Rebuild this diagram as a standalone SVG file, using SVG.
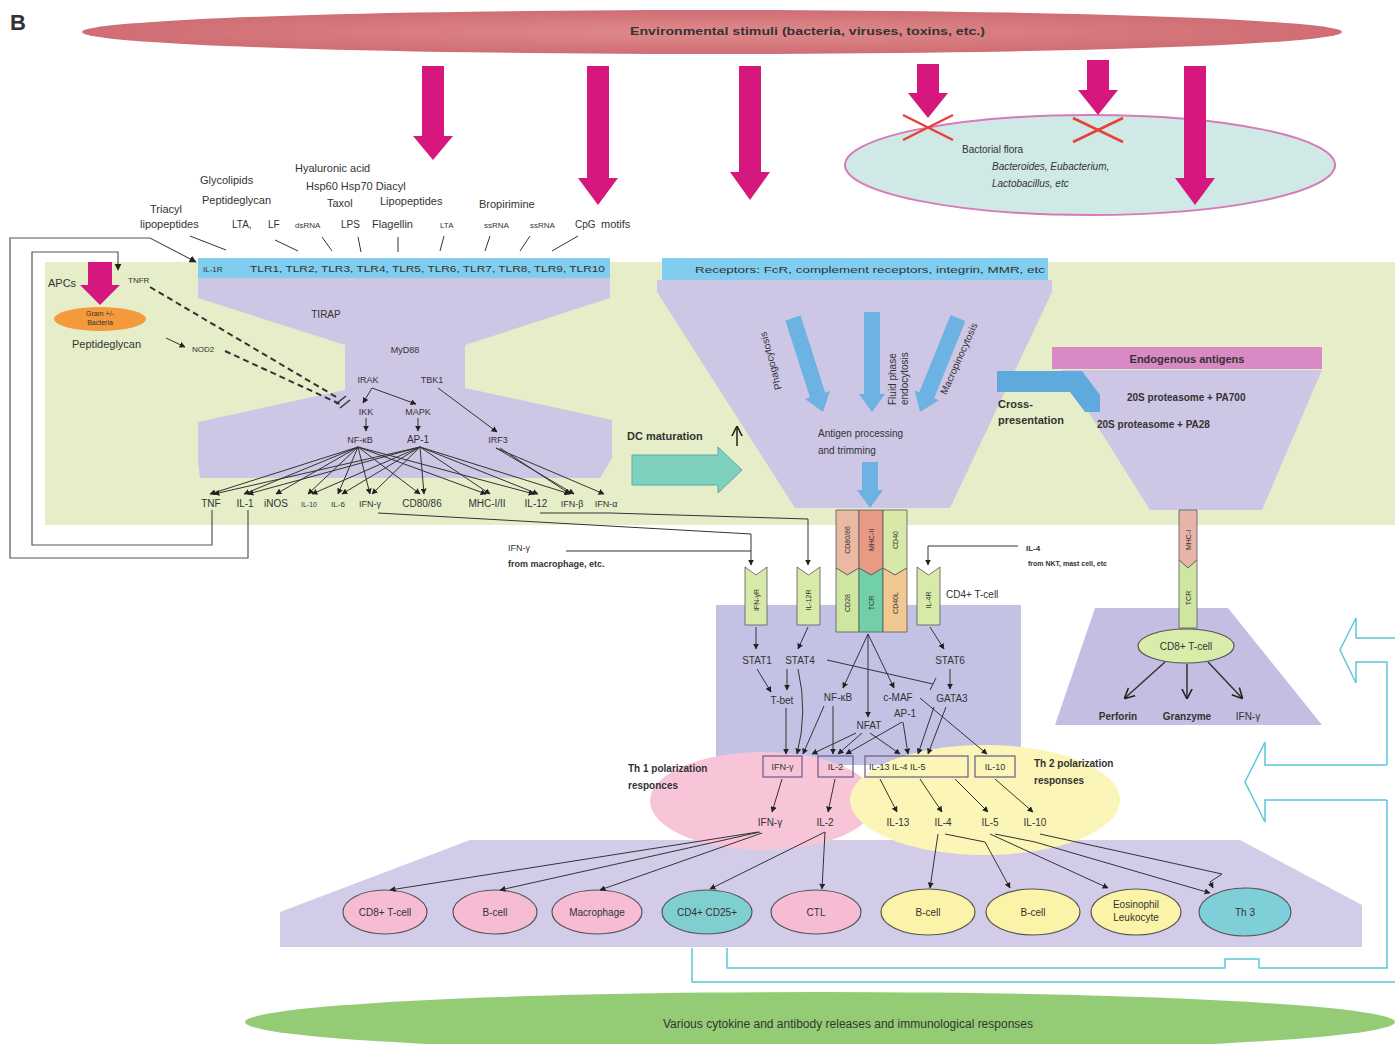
<svg xmlns="http://www.w3.org/2000/svg" width="1395" height="1044" viewBox="0 0 1395 1044">
<defs>
<style>
.t{font-family:"Liberation Sans",Arial,sans-serif;fill:#333}
.s7{font-size:7px}.s8{font-size:8px}.s9{font-size:9px}.s10{font-size:10px}.s11{font-size:11px}.s12{font-size:12px}
.b{font-weight:bold}.i{font-style:italic}
.m{text-anchor:middle}
.mag{fill:#d6187e}
.ln{fill:none;stroke:#333;stroke-width:1}
.la{fill:none;stroke:#333;stroke-width:1;marker-end:url(#ah)}
.lav{fill:#cdc6e5}
.blu{fill:#6cb2e2}
.rec{fill:#d8eaa8;stroke:#556;stroke-width:0.8}
.box{fill:none;stroke:#6a5a8a;stroke-width:1.2}
.cy{fill:none;stroke:#5cc8dc;stroke-width:1.5}
.cell{stroke:#555;stroke-width:1.2}
</style>
<marker id="ah" viewBox="0 0 10 10" refX="9" refY="5" markerWidth="6" markerHeight="6" orient="auto"><path d="M0,0 L10,5 L0,10 z" fill="#222"/></marker>
<marker id="ahb" viewBox="0 0 10 10" refX="9" refY="5" markerWidth="7" markerHeight="9" orient="auto"><path d="M0,0 L10,5 L0,10" fill="none" stroke="#222" stroke-width="1.5"/></marker>
<radialGradient id="gtop" cx="0.5" cy="0.5" r="0.5"><stop offset="0" stop-color="#df8a8c"/><stop offset="1" stop-color="#cf6e74"/></radialGradient>
</defs>

<text class="t b" x="10" y="30" font-size="22">B</text>

<g id="environment">
<ellipse cx="712" cy="32" rx="630" ry="22" fill="url(#gtop)"/>
<text class="t b s10" x="630" y="35" textLength="355" lengthAdjust="spacingAndGlyphs">Environmental stimuli (bacteria, viruses, toxins, etc.)</text>
</g>

<g id="bacterial-flora">
<ellipse cx="1090" cy="165" rx="245" ry="50" fill="#cfe9e6" stroke="#d77ab8" stroke-width="2"/>
<text class="t s10" x="962" y="153">Bactorial flora</text>
<text class="t s10 i" x="992" y="170">Bacteroides, Eubacterium,</text>
<text class="t s10 i" x="992" y="187">Lactobacillus, etc</text>
</g>

<g id="stimulus-arrows">
<polygon class="mag" points="422,66 444,66 444,136 453,136 433,160 413,136 422,136"/>
<polygon class="mag" points="587,66 609,66 609,178 618,178 598,205 578,178 587,178"/>
<polygon class="mag" points="739,66 761,66 761,172 770,172 750,200 730,172 739,172"/>
<polygon class="mag" points="917,64 939,64 939,93 948,93 928,118 908,93 917,93"/>
<polygon class="mag" points="1087,60 1109,60 1109,90 1118,90 1098,115 1078,90 1087,90"/>
<polygon class="mag" points="1184,66 1206,66 1206,178 1215,178 1195,205 1175,178 1184,178"/>
<g stroke="#e8403a" stroke-width="2.5">
<line x1="903" y1="115" x2="953" y2="140"/><line x1="903" y1="140" x2="953" y2="115"/>
<line x1="1073" y1="118" x2="1123" y2="142"/><line x1="1073" y1="142" x2="1123" y2="118"/>
</g>
</g>

<g id="ligands">
<text class="t s11" x="150" y="213">Triacyl</text>
<text class="t s11" x="140" y="228">lipopeptides</text>
<text class="t s10" x="232" y="228">LTA,</text>
<text class="t s10" x="268" y="228">LF</text>
<text class="t s8" x="295" y="228">dsRNA</text>
<text class="t s10" x="341" y="228">LPS</text>
<text class="t s11" x="372" y="228">Flagellin</text>
<text class="t s8" x="440" y="228">LTA</text>
<text class="t s8" x="484" y="228">ssRNA</text>
<text class="t s8" x="530" y="228">ssRNA</text>
<text class="t s10" x="575" y="228">CpG</text>
<text class="t s11" x="601" y="228">motifs</text>
<text class="t s11" x="200" y="184">Glycolipids</text>
<text class="t s11" x="202" y="204">Peptideglycan</text>
<text class="t s11" x="295" y="172">Hyaluronic acid</text>
<text class="t s11" x="306" y="190">Hsp60 Hsp70 Diacyl</text>
<text class="t s11" x="327" y="207">Taxol</text>
<text class="t s11" x="380" y="205">Lipopeptides</text>
<text class="t s11" x="479" y="208">Bropirimine</text>
</g>

<g id="dc-background">
<rect x="45" y="262" width="1350" height="263" fill="#e5eec8"/>
</g>

<g id="tlr-pathway">
<polygon class="lav" points="198,278 610,278 610,298 465,345 465,388 612,420 612,458 600,478 200,478 198,460 198,422 345,390 345,345 198,298"/>
<rect x="198" y="258" width="412" height="20" fill="#80cdef"/>
<text class="t s8" x="203" y="272">IL-1R</text>
<text class="t s9" x="250" y="272" textLength="355" lengthAdjust="spacingAndGlyphs">TLR1, TLR2, TLR3, TLR4, TLR5, TLR6, TLR7, TLR8, TLR9, TLR10</text>
<text class="t s10 m" x="326" y="318">TIRAP</text>
<text class="t s9 m" x="405" y="353">MyD88</text>
<text class="t s9 m" x="368" y="383">IRAK</text>
<text class="t s9 m" x="432" y="383">TBK1</text>
<text class="t s9 m" x="366" y="415">IKK</text>
<text class="t s9 m" x="418" y="415">MAPK</text>
<text class="t s9 m" x="360" y="443">NF-κB</text>
<text class="t s10 m" x="418" y="443">AP-1</text>
<text class="t s9 m" x="498" y="443">IRF3</text>
</g>

<g id="tlr-products">
<text class="t s10 m" x="211" y="507">TNF</text>
<text class="t s10 m" x="245" y="507">IL-1</text>
<text class="t s10 m" x="276" y="507">iNOS</text>
<text class="t s7 m" x="309" y="507">IL-10</text>
<text class="t s8 m" x="338" y="507">IL-6</text>
<text class="t s9 m" x="370" y="507">IFN-γ</text>
<text class="t s10 m" x="422" y="507">CD80/86</text>
<text class="t s10 m" x="487" y="507">MHC-I/II</text>
<text class="t s10 m" x="536" y="507">IL-12</text>
<text class="t s9 m" x="572" y="507">IFN-β</text>
<text class="t s9 m" x="606" y="507">IFN-α</text>
</g>

<g id="apc">
<text class="t s11" x="48" y="287">APCs</text>
<polygon class="mag" points="88,262 112,262 112,285 120,285 100,305 80,285 88,285"/>
<ellipse cx="100" cy="319" rx="46" ry="12" fill="#f59a3c"/>
<text class="t s7 m" x="100" y="316">Gram +/-</text>
<text class="t s7 m" x="100" y="325">Bacteria</text>
<text class="t s11" x="72" y="348">Peptideglycan</text>
<text class="t s8" x="128" y="283">TNFR</text>
<text class="t s8" x="192" y="352">NOD2</text>
</g>

<g id="exogenous-funnel">
<polygon class="lav" points="657,280 1052,280 1052,292 950,508 795,508 657,292"/>
<rect x="662" y="258" width="386" height="22" fill="#80cdef"/>
<text class="t s9" x="695" y="273" textLength="350" lengthAdjust="spacingAndGlyphs">Receptors: FcR, complement receptors, integrin, MMR, etc</text>
<polygon class="blu" points="785.4,320.4 809.9,397.3 805.1,398.9 823,412 829.9,390.9 825.1,392.5 800.6,315.6"/>
<polygon class="blu" points="864,312 864,394 859,394 872,412 885,394 880,394 880,312"/>
<polygon class="blu" points="950.6,315 919.3,392.3 914.7,390.4 920,412 938.8,400.2 934.2,398.3 965.4,321"/>
<polygon class="blu" points="862,462 862,490 857,490 870,508 883,490 878,490 878,462"/>
<text class="t s10 m" transform="translate(774,360) rotate(-105)">Phagocytosis</text>
<text class="t s10" transform="translate(896,405) rotate(-90)"><tspan x="0" y="0">Fluid phase</tspan><tspan x="0" y="12">endocytosis</tspan></text>
<text class="t s10 m" transform="translate(962,360) rotate(-66)">Macropinocytosis</text>
<text class="t s10" x="818" y="437">Antigen processing</text>
<text class="t s10" x="818" y="454">and trimming</text>
</g>

<g id="dc-maturation">
<text class="t b s11" x="627" y="440">DC maturation</text>
<line x1="737" y1="446" x2="737" y2="427" stroke="#222" stroke-width="1.5" marker-end="url(#ahb)"/>
<polygon points="632,455 718,455 718,447 742,470 718,493 718,485 632,485" fill="#7fd1bf" stroke="#5aa9a0" stroke-width="1"/>
</g>

<g id="endogenous">
<polygon class="lav" points="1062,370 1322,370 1262,510 1150,510"/>
<rect x="1052" y="347" width="270" height="22" fill="#d98ac4"/>
<text class="t b s11 m" x="1187" y="363">Endogenous antigens</text>
<polygon points="997,371 1082,371 1100,395 1100,412 1085,412 1070,392 997,392" fill="#5fa9dd"/>
<text class="t b s10" x="1127" y="401">20S proteasome + PA700</text>
<text class="t b s10" x="1097" y="428">20S proteasome + PA28</text>
<text class="t b s11" x="998" y="408">Cross-</text>
<text class="t b s11" x="998" y="424">presentation</text>
</g>

<g id="bottom-panel">
<polygon points="280,947 280,912 470,840 1240,840 1362,905 1362,947" fill="#d2cce8"/>
</g>

<g id="cd4-tcell">
<rect x="716" y="605" width="305" height="160" fill="#c4c2e4"/>
<text class="t s10" x="946" y="598">CD4+ T-cell</text>
</g>

<g id="th1-zone"><ellipse cx="763" cy="801" rx="113" ry="49" fill="#f8c5d8"/></g>
<g id="th2-zone"><ellipse cx="985" cy="800" rx="135" ry="55" fill="#fbf5b8"/></g>

<g id="receptor-complex">
<path d="M836,510 H859 V568 L847.5,575 L836,568 Z" fill="#eab9a2" stroke="#556" stroke-width="0.8"/>
<path d="M859,510 H883 V568 L871,575 L859,568 Z" fill="#e89a84" stroke="#556" stroke-width="0.8"/>
<path d="M883,510 H907 V568 L895,575 L883,568 Z" fill="#d8e8a6" stroke="#556" stroke-width="0.8"/>
<path d="M836,568 L847.5,575 L859,568 V632 H836 Z" fill="#cfe6a0" stroke="#556" stroke-width="0.8"/>
<path d="M859,568 L871,575 L883,568 V632 H859 Z" fill="#72d0a8" stroke="#556" stroke-width="0.8"/>
<path d="M883,568 L895,575 L907,568 V632 H883 Z" fill="#f0c890" stroke="#556" stroke-width="0.8"/>
<text class="t s7 m" transform="translate(850,540) rotate(-90)">CD80/86</text>
<text class="t s7 m" transform="translate(874,540) rotate(-90)">MHC-II</text>
<text class="t s7 m" transform="translate(898,540) rotate(-90)">CD40</text>
<text class="t s7 m" transform="translate(850,603) rotate(-90)">CD28</text>
<text class="t s7 m" transform="translate(874,603) rotate(-90)">TCR</text>
<text class="t s7 m" transform="translate(898,603) rotate(-90)">CD40L</text>
</g>

<g id="ifng-receptor">
<path class="rec" d="M745,567 L756,575 L767,567 V625 H745 Z"/>
<text class="t s7 m" transform="translate(759,600) rotate(-90)">IFN-γR</text>
</g>
<g id="il12-receptor">
<path class="rec" d="M797,567 L808.5,575 L820,567 V625 H797 Z"/>
<text class="t s7 m" transform="translate(811,600) rotate(-90)">IL-12R</text>
</g>
<g id="il4-receptor">
<path class="rec" d="M917,567 L928.5,575 L940,567 V625 H917 Z"/>
<text class="t s7 m" transform="translate(931,600) rotate(-90)">IL-4R</text>
</g>

<g id="external-cytokines">
<text class="t s9" x="508" y="551">IFN-γ</text>
<text class="t b s9" x="508" y="567">from macrophage, etc.</text>
<text class="t b s8" x="1026" y="551">IL-4</text>
<text class="t b s7" x="1028" y="566">from NKT, mast cell, etc</text>
</g>

<g id="tcell-factors">
<text class="t s10 m" x="757" y="664">STAT1</text>
<text class="t s10 m" x="800" y="664">STAT4</text>
<text class="t s10 m" x="950" y="664">STAT6</text>
<text class="t s10 m" x="782" y="704">T-bet</text>
<text class="t s10 m" x="838" y="701">NF-κB</text>
<text class="t s10 m" x="898" y="701">c-MAF</text>
<text class="t s10 m" x="905" y="717">AP-1</text>
<text class="t s10 m" x="952" y="702">GATA3</text>
<text class="t s10 m" x="869" y="729">NFAT</text>
</g>

<g id="tcell-cytokines">
<rect class="box" x="763" y="756" width="39" height="21"/>
<text class="t s9 m" x="782.5" y="770">IFN-γ</text>
<rect class="box" x="818" y="756" width="35" height="21"/>
<text class="t s9 m" x="835.5" y="770">IL-2</text>
<rect class="box" x="865" y="756" width="103" height="21"/>
<text class="t s9" x="869" y="770">IL-13 IL-4 IL-5</text>
<rect class="box" x="975" y="756" width="40" height="21"/>
<text class="t s9 m" x="995" y="770">IL-10</text>
<text class="t b s10" x="628" y="772">Th 1 polarization</text>
<text class="t b s10" x="628" y="789">responces</text>
<text class="t b s10" x="1034" y="767">Th 2 polarization</text>
<text class="t b s10" x="1034" y="784">responses</text>
<text class="t s10 m" x="770" y="826">IFN-γ</text>
<text class="t s10 m" x="825" y="826">IL-2</text>
<text class="t s10 m" x="898" y="826">IL-13</text>
<text class="t s10 m" x="943" y="826">IL-4</text>
<text class="t s10 m" x="990" y="826">IL-5</text>
<text class="t s10 m" x="1035" y="826">IL-10</text>
</g>

<g id="cd8-tcell">
<polygon points="1095,608 1228,608 1322,725 1055,725" fill="#c4bee2"/>
<path d="M1179,510 H1197 V560 L1188,568 L1179,560 Z" fill="#e8b4aa" stroke="#556" stroke-width="0.8"/>
<path d="M1179,560 L1188,568 L1197,560 V628 H1179 Z" fill="#cfe6a0" stroke="#556" stroke-width="0.8"/>
<text class="t s7 m" transform="translate(1191,540) rotate(-90)">MHC-I</text>
<text class="t s7 m" transform="translate(1191,598) rotate(-90)">TCR</text>
<ellipse cx="1186" cy="646" rx="48" ry="17" fill="#d9ecaa" stroke="#555" stroke-width="1.2"/>
<text class="t s10 m" x="1186" y="650">CD8+ T-cell</text>
<text class="t b s10 m" x="1118" y="720">Perforin</text>
<text class="t b s10 m" x="1187" y="720">Granzyme</text>
<text class="t s10 m" x="1248" y="720">IFN-γ</text>
</g>

<g id="effector-cells">
<ellipse class="cell" cx="385" cy="912" rx="42" ry="22" fill="#f6bcd4"/><text class="t s10 m" x="385" y="916">CD8+ T-cell</text>
<ellipse class="cell" cx="495" cy="912" rx="42" ry="22" fill="#f6bcd4"/><text class="t s10 m" x="495" y="916">B-cell</text>
<ellipse class="cell" cx="597" cy="912" rx="45" ry="22" fill="#f6bcd4"/><text class="t s10 m" x="597" y="916">Macrophage</text>
<ellipse class="cell" cx="707" cy="912" rx="45" ry="22" fill="#7fcfcf"/><text class="t s10 m" x="707" y="916">CD4+ CD25+</text>
<ellipse class="cell" cx="816" cy="912" rx="45" ry="22" fill="#f6bcd4"/><text class="t s10 m" x="816" y="916">CTL</text>
<ellipse class="cell" cx="928" cy="912" rx="47" ry="23" fill="#fbf3a8"/><text class="t s10 m" x="928" y="916">B-cell</text>
<ellipse class="cell" cx="1033" cy="912" rx="47" ry="23" fill="#fbf3a8"/><text class="t s10 m" x="1033" y="916">B-cell</text>
<ellipse class="cell" cx="1136" cy="912" rx="45" ry="23" fill="#fbf3a8"/><text class="t s10 m" x="1136" y="908">Eosinophil</text><text class="t s10 m" x="1136" y="921">Leukocyte</text>
<ellipse class="cell" cx="1245" cy="912" rx="46" ry="24" fill="#7fcfd8"/><text class="t s10 m" x="1245" y="916">Th 3</text>
</g>

<g id="responses">
<ellipse cx="820" cy="1022" rx="575" ry="30" fill="#93cc75"/>
<text class="t s12 m" x="848" y="1028">Various cytokine and antibody releases and immunological responses</text>
</g>

<g id="connectors">
<g class="ln">
<line x1="190" y1="236" x2="226" y2="250"/><line x1="275" y1="240" x2="298" y2="251"/>
<line x1="322" y1="237" x2="332" y2="251"/><line x1="358" y1="237" x2="361" y2="252"/>
<line x1="398" y1="237" x2="398" y2="252"/><line x1="444" y1="236" x2="440" y2="251"/>
<line x1="490" y1="236" x2="485" y2="251"/><line x1="530" y1="236" x2="520" y2="251"/>
<line x1="578" y1="236" x2="552" y2="251"/>
</g>
<path d="M248,510 V558 H10 V238 H150 L196,262" fill="none" stroke="#555" stroke-width="1.2" marker-end="url(#ah)"/>
<path d="M212,510 V545 H32 V252 H118 V270" fill="none" stroke="#555" stroke-width="1.2" marker-end="url(#ah)"/>
<path d="M150,287 L338,398" fill="none" stroke="#333" stroke-width="2" stroke-dasharray="6,4"/>
<path d="M225,351 L340,404" fill="none" stroke="#333" stroke-width="2" stroke-dasharray="6,4"/>
<path d="M336,404 L346,396 M340,408 L350,400" stroke="#333" stroke-width="1.5"/>
<line class="la" x1="166" y1="338" x2="185" y2="347" stroke-width="1.5"/>
<path class="la" d="M372,388 L363,403"/>
<path class="la" d="M372,388 L416,404"/>
<path class="la" d="M366,418 V431"/>
<path class="la" d="M418,418 V431"/>
<path class="la" d="M438,388 L497,432"/>
<g class="la">
<line x1="358" y1="447" x2="210" y2="494"/><line x1="358" y1="447" x2="244" y2="494"/>
<line x1="358" y1="447" x2="276" y2="494"/><line x1="358" y1="447" x2="308" y2="494"/>
<line x1="358" y1="447" x2="338" y2="494"/><line x1="358" y1="447" x2="370" y2="494"/>
<line x1="358" y1="447" x2="420" y2="494"/><line x1="358" y1="447" x2="486" y2="494"/>
<line x1="358" y1="447" x2="534" y2="494"/>
<line x1="420" y1="447" x2="214" y2="494"/><line x1="420" y1="447" x2="248" y2="494"/>
<line x1="420" y1="447" x2="312" y2="494"/><line x1="420" y1="447" x2="342" y2="494"/>
<line x1="420" y1="447" x2="372" y2="494"/><line x1="420" y1="447" x2="424" y2="494"/>
<line x1="420" y1="447" x2="490" y2="494"/><line x1="420" y1="447" x2="538" y2="494"/>
<line x1="420" y1="447" x2="570" y2="494"/>
<line x1="496" y1="448" x2="574" y2="494"/><line x1="496" y1="448" x2="604" y2="494"/>
<line x1="500" y1="448" x2="570" y2="494"/>
</g>
<path class="la" d="M378,513 L751,534 V565"/>
<path class="la" d="M540,513 H610 L808,519 V565"/>
<path class="ln" d="M566,551 H751"/>
<path class="la" d="M1018,546 H928 V565"/>
<g class="la">
<line x1="756" y1="627" x2="756" y2="649"/>
<line x1="808" y1="627" x2="798" y2="649"/>
<line x1="930" y1="627" x2="944" y2="649"/>
<line x1="868" y1="634" x2="843" y2="688"/>
<line x1="868" y1="634" x2="868" y2="717"/>
<line x1="868" y1="634" x2="894" y2="688"/>
<line x1="757" y1="669" x2="771" y2="692"/>
<line x1="787" y1="669" x2="787" y2="690"/>
<line x1="950" y1="669" x2="950" y2="689"/>
<line x1="786" y1="708" x2="786" y2="754"/>
<path d="M798,669 Q808,712 797,754"/>
<line x1="824" y1="706" x2="803" y2="754"/>
<line x1="833" y1="706" x2="833" y2="754"/>
<line x1="856" y1="733" x2="812" y2="754"/>
<line x1="862" y1="733" x2="838" y2="754"/>
<line x1="870" y1="733" x2="900" y2="754"/>
<line x1="902" y1="722" x2="846" y2="754"/>
<line x1="903" y1="722" x2="908" y2="754"/>
<line x1="934" y1="707" x2="918" y2="754"/>
<line x1="946" y1="707" x2="928" y2="754"/>
<line x1="920" y1="698" x2="987" y2="754"/>
</g>
<path d="M827,660 L933,684 M930,690 L936,678" fill="none" stroke="#333" stroke-width="1"/>
<g class="la">
<line x1="782" y1="779" x2="772" y2="812"/>
<line x1="835" y1="779" x2="828" y2="812"/>
<line x1="880" y1="779" x2="897" y2="812"/>
<line x1="920" y1="779" x2="942" y2="812"/>
<line x1="955" y1="779" x2="988" y2="812"/>
<line x1="995" y1="779" x2="1033" y2="812"/>
</g>
<g class="la">
<line x1="758" y1="832" x2="390" y2="890"/>
<line x1="760" y1="832" x2="500" y2="890"/>
<line x1="762" y1="833" x2="600" y2="890"/>
<line x1="825" y1="832" x2="710" y2="889"/>
<line x1="825" y1="832" x2="822" y2="889"/>
<line x1="938" y1="834" x2="930" y2="888"/>
<path d="M945,834 L985,842 L1010,888"/>
<line x1="990" y1="834" x2="1108" y2="888"/>
<path d="M995,834 L1035,842 L1210,893"/>
<path d="M1040,834 L1222,874 L1210,882 L1213,888"/>
</g>
<g fill="none" stroke="#333" stroke-width="1.5" marker-end="url(#ahb)">
<line x1="1165" y1="662" x2="1125" y2="698"/>
<line x1="1187" y1="664" x2="1187" y2="698"/>
<line x1="1208" y1="662" x2="1242" y2="698"/>
</g>
<path class="cy" d="M1395,638 H1356 V618 L1340,650 L1356,683 V662 H1387 V765"/>
<path class="cy" d="M1387,765 H1265 V742 L1245,782 L1265,822 V800 H1387"/>
<path class="cy" d="M1387,800 V968 H1259 V959 H1225 V968 H727 V948"/>
<path class="cy" d="M692,948 V982 H1395"/>
</g>
</svg>
